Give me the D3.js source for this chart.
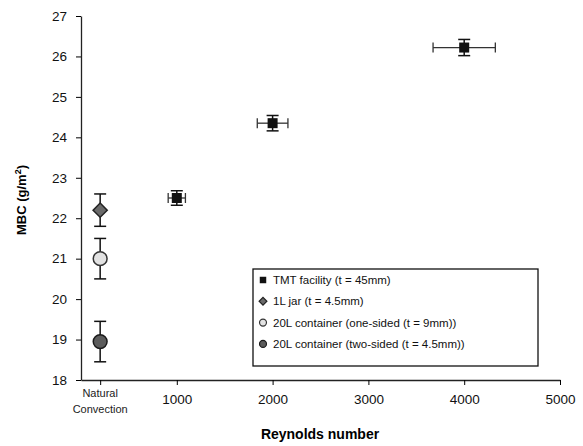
<!DOCTYPE html>
<html>
<head>
<meta charset="utf-8">
<script src="https://cdn.jsdelivr.net/npm/d3@7"></script>
<style>
  body { margin: 0; background: #fff; }
  text { font-family: "Liberation Sans", Arial, sans-serif; }
</style>
</head>
<body>
<div id="chart"></div>
<script>
// TMT facility points
var tmtRe = [1000, 2000, 4000];
var tmtMBC = [22.5, 24.35, 26.22];
var tmtErrY = [0.18, 0.19, 0.2];
var tmtErrX = [90, 160, 325];

// natural convection points (plotted at one position)
var natRe = 200;
var natNames = ["1L jar", "20L one-sided", "20L two-sided"];
var natMBC = [22.2, 21.0, 18.95];
var natErrY = [0.4, 0.5, 0.5];

var xTicks = [200, 1000, 2000, 3000, 4000, 5000];
var yTicks = [18, 19, 20, 21, 22, 23, 24, 25, 26, 27];
var legendLabels = [
    "TMT facility (t = 45mm)",
    "1L jar (t = 4.5mm)",
    "20L container (one-sided (t = 9mm))",
    "20L container (two-sided (t = 4.5mm))"
];

var W = 583, H = 446;
var svg = d3.select("#chart").append("svg")
    .attr("width", W)
    .attr("height", H);

var x = d3.scaleLinear().domain([0, 5000]).range([81, 560]);
var y = d3.scaleLinear().domain([18, 27]).range([380, 16]);

// axes
var xAxis = svg.append("g")
    .attr("transform", "translate(0,380)")
    .call(d3.axisBottom(x).tickValues(xTicks).tickSize(5).tickSizeOuter(0)
        .tickFormat(function (d) { return d === natRe ? "" : d; }));
xAxis.selectAll("text").style("font-size", "13.5px").attr("dy", "1.2em").attr("fill", "#111");
xAxis.select(".domain").attr("stroke", "#222").attr("stroke-width", 1.3);

var nat = xAxis.append("text")
    .attr("x", x(natRe))
    .attr("y", 17)
    .attr("text-anchor", "middle")
    .attr("fill", "#222")
    .style("font-size", "11px");
nat.append("tspan").attr("x", x(natRe)).attr("dy", 0).text("Natural");
nat.append("tspan").attr("x", x(natRe)).attr("dy", "1.45em").text("Convection");

var yAxis = svg.append("g")
    .attr("transform", "translate(81,0)")
    .call(d3.axisLeft(y).tickValues(yTicks).tickSize(5).tickSizeOuter(0));
yAxis.selectAll("text").style("font-size", "13.5px").attr("x", -14).attr("fill", "#111");
yAxis.select(".domain").attr("stroke", "#222").attr("stroke-width", 1.3);

// axis titles
svg.append("text")
    .attr("x", 320)
    .attr("y", 439)
    .attr("text-anchor", "middle")
    .style("font-size", "14px")
    .style("font-weight", "bold")
    .text("Reynolds number");

svg.append("text")
    .attr("transform", "translate(26,200) rotate(-90)")
    .attr("text-anchor", "middle")
    .style("font-size", "13px")
    .style("font-weight", "bold")
    .html("MBC (g/m<tspan dy='-5' style='font-size:9px'>2</tspan><tspan dy='5'>)</tspan>");

// error bars helper
function vErr(cx, v, e) {
    var g = svg.append("g").attr("stroke", "#111").attr("stroke-width", 1.5);
    g.append("line").attr("x1", cx).attr("x2", cx).attr("y1", y(v + e)).attr("y2", y(v - e));
    g.append("line").attr("x1", cx - 6).attr("x2", cx + 6).attr("y1", y(v + e)).attr("y2", y(v + e));
    g.append("line").attr("x1", cx - 6).attr("x2", cx + 6).attr("y1", y(v - e)).attr("y2", y(v - e));
}
function hErr(re, v, e) {
    var g = svg.append("g").attr("stroke", "#333").attr("stroke-width", 1.3);
    var cy = y(v);
    g.append("line").attr("x1", x(re - e)).attr("x2", x(re + e)).attr("y1", cy).attr("y2", cy);
    g.append("line").attr("x1", x(re - e)).attr("x2", x(re - e)).attr("y1", cy - 5).attr("y2", cy + 5);
    g.append("line").attr("x1", x(re + e)).attr("x2", x(re + e)).attr("y1", cy - 5).attr("y2", cy + 5);
}

// TMT facility
tmtRe.forEach(function (re, i) {
    hErr(re, tmtMBC[i], tmtErrX[i]);
    vErr(x(re), tmtMBC[i], tmtErrY[i]);
});
svg.selectAll(".tmt")
    .data(tmtRe)
    .enter().append("rect")
    .attr("class", "tmt")
    .attr("x", function (d) { return x(d) - 5; })
    .attr("y", function (d, i) { return y(tmtMBC[i]) - 5; })
    .attr("width", 10)
    .attr("height", 10)
    .attr("fill", "#111");

// natural convection
natMBC.forEach(function (v, i) {
    vErr(x(natRe), v, natErrY[i]);
});
// diamond = square turned 45 degrees
var sym = [
    { type: d3.symbolSquare, size: 100, rot: 45, fill: "#6a6a6a", stroke: "#222" },
    { type: d3.symbolCircle, size: 150, rot: 0, fill: "#e2e2e2", stroke: "#333" },
    { type: d3.symbolCircle, size: 150, rot: 0, fill: "#5c5c5c", stroke: "#1a1a1a" }
];
svg.selectAll(".nat")
    .data(natMBC)
    .enter().append("path")
    .attr("class", "nat")
    .attr("transform", function (d, i) {
        return "translate(" + x(natRe) + "," + y(d) + ") rotate(" + sym[i].rot + ")";
    })
    .attr("d", function (d, i) { return d3.symbol().type(sym[i].type).size(sym[i].size)(); })
    .attr("fill", function (d, i) { return sym[i].fill; })
    .attr("stroke", function (d, i) { return sym[i].stroke; })
    .attr("stroke-width", 1.5);

// legend
var lg = svg.append("g").attr("transform", "translate(253,269)");
lg.append("rect")
    .attr("width", 285)
    .attr("height", 97)
    .attr("fill", "#fff")
    .attr("stroke", "#111")
    .attr("stroke-width", 1.3);

var items = lg.selectAll(".legends")
    .data(legendLabels)
    .enter().append("g")
    .attr("class", "legends")
    .attr("transform", function (d, i) { return "translate(0," + (11 + i * 21.3) + ")"; });

items.append("path")
    .attr("transform", function (d, i) {
        return "translate(10,0) rotate(" + (i === 1 ? 45 : 0) + ")";
    })
    .attr("d", function (d, i) {
        if (i === 0) return d3.symbol().type(d3.symbolSquare).size(42)();
        return d3.symbol().type(sym[i - 1].type).size(i === 1 ? 30 : 38)();
    })
    .attr("fill", function (d, i) { return i === 0 ? "#111" : sym[i - 1].fill; })
    .attr("stroke", function (d, i) { return i === 0 ? "none" : sym[i - 1].stroke; })
    .attr("stroke-width", 1.2);

items.append("text")
    .attr("x", 20)
    .attr("y", 0)
    .attr("dy", ".35em")
    .style("font-size", "11.5px")
    .attr("fill", "#111")
    .text(function (d) { return d; });
</script>
</body>
</html>
